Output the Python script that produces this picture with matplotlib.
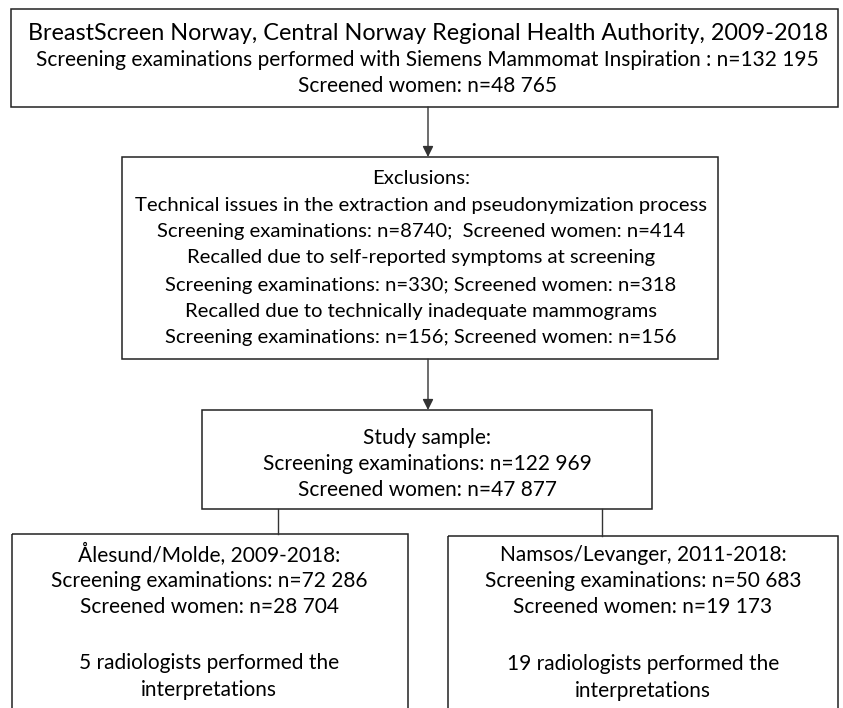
import matplotlib.pyplot as plt
from matplotlib.patches import Rectangle

plt.rcParams["font.family"] = ["Lato", "DejaVu Sans"]

# box texts
top_title = "BreastScreen Norway, Central Norway Regional Health Authority, 2009-2018"
top_lines = [
    "Screening examinations performed with Siemens Mammomat Inspiration : n=132 195",
    "Screened women: n=48 765",
]
excl_lines = [
    "Exclusions:",
    "Technical issues in the extraction and pseudonymization process",
    "Screening examinations: n=8740;  Screened women: n=414",
    "Recalled due to self-reported symptoms at screening",
    "Screening examinations: n=330; Screened women: n=318",
    "Recalled due to technically inadequate mammograms",
    "Screening examinations: n=156; Screened women: n=156",
]
study_lines = [
    "Study sample:",
    "Screening examinations: n=122 969",
    "Screened women: n=47 877",
]
left_lines = [
    "Ålesund/Molde, 2009-2018:",
    "Screening examinations: n=72 286",
    "Screened women: n=28 704",
    "5 radiologists performed the",
    "interpretations",
]
right_lines = [
    "Namsos/Levanger, 2011-2018:",
    "Screening examinations: n=50 683",
    "Screened women: n=19 173",
    "19 radiologists performed the",
    "interpretations",
]

W, H = 843, 708
fig = plt.figure(figsize=(W / 100, H / 100), dpi=100)
ax = fig.add_axes([0, 0, 1, 1])
ax.set_xlim(0, W)
ax.set_ylim(H, 0)
ax.axis("off")

FS = 15


def box(x0, y0, x1, y1):
    ax.add_patch(Rectangle((x0, y0), x1 - x0, y1 - y0, fill=False,
                           edgecolor="#222222", lw=1.1))


def lines_at(cx, ys, lines, size=FS):
    for y, t in zip(ys, lines):
        ax.text(cx, y, t, ha="center", va="center",
                fontsize=size, color="black")


def arrow(x, y0, y1):
    ax.annotate("", xy=(x, y1), xytext=(x, y0),
                arrowprops=dict(arrowstyle="-|>", color="#333333", lw=1.0,
                                mutation_scale=16, shrinkA=0, shrinkB=0))


# top box
box(11, 9, 838, 107)
ax.text(428, 33, top_title, ha="center", va="center", fontsize=16.8)
lines_at(427, [60, 86], top_lines)
arrow(428, 107, 157)

# exclusions
box(122, 157, 718, 359)
lines_at(421, [178, 205, 231, 258, 285, 312, 338], excl_lines, size=14.6)
arrow(428, 359, 410)

# study sample
box(202, 410, 652, 509)
lines_at(427, [438, 464, 490], study_lines)
ax.plot([278, 278], [509, 534], color="#333333", lw=1.0)
ax.plot([602, 602], [509, 536], color="#333333", lw=1.0)

# bottom boxes (run past the lower edge)
box(12, 534, 408, 760)
lines_at(209, [555, 581, 607, 663, 690], left_lines)
box(448, 536, 838, 760)
lines_at(643, [555, 581, 607, 664, 691], right_lines)

fig.savefig("out.png", dpi=100)
